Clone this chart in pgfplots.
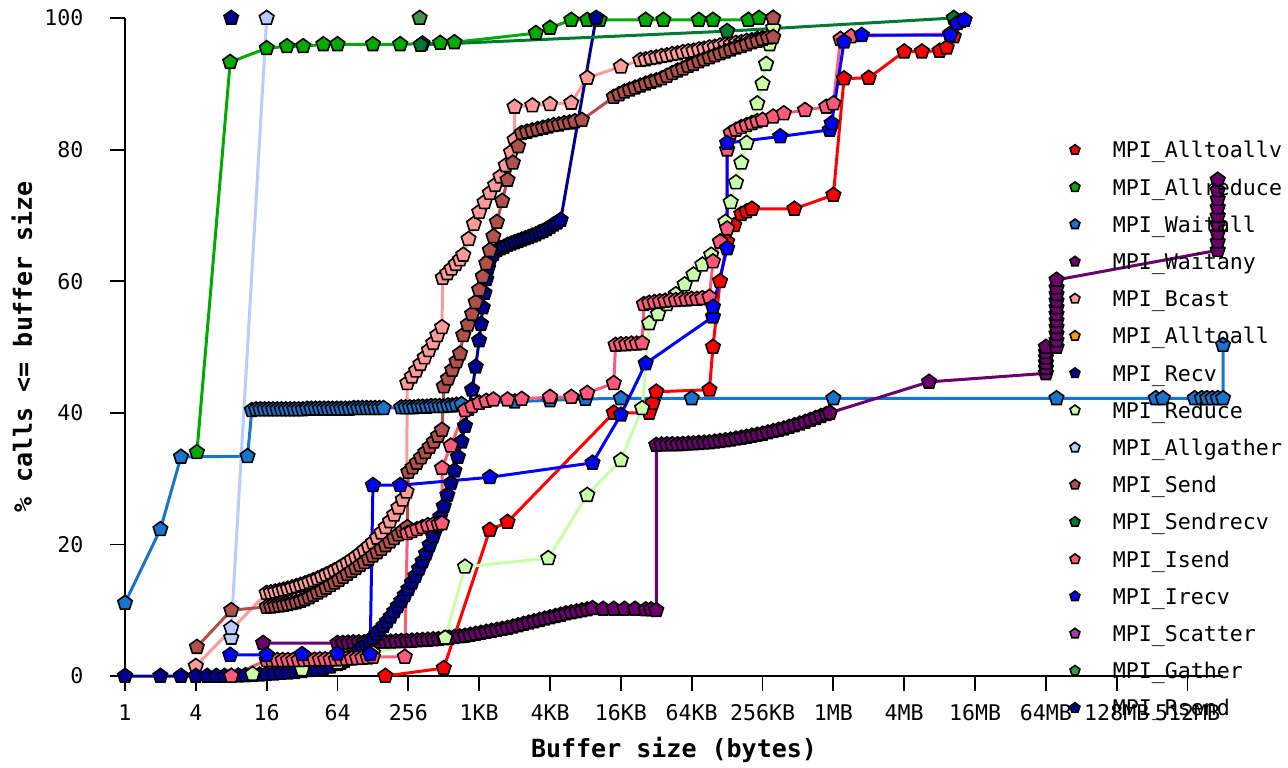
\documentclass[border=0pt]{standalone}
\usepackage{pgfplots}
\pgfplotsset{compat=1.18}
\usepackage{fontspec}
\setmainfont{DejaVu Sans Mono}
\definecolor{cAlltoallv}{HTML}{FF0000}
\definecolor{cAllreduce}{HTML}{00AA00}
\definecolor{cWaitall}{HTML}{1874CD}
\definecolor{cWaitany}{HTML}{6A006A}
\definecolor{cBcast}{HTML}{FF9A9A}
\definecolor{cAlltoall}{HTML}{FF9900}
\definecolor{cRecv}{HTML}{000090}
\definecolor{cReduce}{HTML}{C8FFA8}
\definecolor{cAllgather}{HTML}{B8CCFF}
\definecolor{cSend}{HTML}{B0504C}
\definecolor{cSendrecv}{HTML}{007A30}
\definecolor{cIsend}{HTML}{FF5A7A}
\definecolor{cIrecv}{HTML}{0000FF}
\definecolor{cScatter}{HTML}{A040A0}
\definecolor{cGather}{HTML}{40954A}
\definecolor{cRsend}{HTML}{000090}
\pgfplotsset{mk/.style={color=#1, line width=1.5pt, mark=pentagon*, mark size=3.8pt,
  mark options={draw=black, fill=#1, line width=0.8pt, solid}}}
\begin{document}
\fontsize{10.8pt}{13pt}\selectfont
\begin{tikzpicture}
\begin{axis}[
  scale only axis, width=549pt, height=329pt,
  xmin=0, xmax=31, ymin=0, ymax=100,
  clip=false,
  axis x line*=bottom, axis y line*=left,
  axis line style={-, line width=0.9pt, black},
  tick align=outside, major tick length=7.5pt,
  tick style={black, line width=0.9pt},
  xtick={0,2,...,30},
  xticklabels={1,4,16,64,256,1KB,4KB,16KB,64KB,256KB,1MB,4MB,16MB,64MB,128MB,512MB},
  ytick={0,20,...,100},
  /pgf/number format/assume math mode=true,
  tick label style={font=\fontsize{10.8pt}{12pt}\selectfont},
  xticklabel style={yshift=-3pt},
  yticklabel style={xshift=-9.5pt},
  xlabel={Buffer size (bytes)},
  ylabel={\% calls <= buffer size},
  label style={font=\fontsize{12.5pt}{14pt}\selectfont\bfseries},
  xlabel style={at={(axis description cs:0.5,-0.1125)}, anchor=center},
  ylabel style={at={(axis description cs:-0.0938,0.5)}, anchor=center},
  legend style={at={(rel axis cs:0.8597,0.8117)}, anchor=north west,
    draw=none, fill=none, inner sep=0pt, outer sep=0pt,
    row sep=8.6pt,
    nodes={inner sep=0pt, text height=8pt, text depth=2pt, font=\fontsize{10.8pt}{12pt}\selectfont}},
  legend cell align=left,
  legend image code/.code={\path[draw=none,fill=none] (-3pt,-4pt) rectangle (19pt,4pt);
    \draw[#1, only marks, mark size=2.6pt] plot coordinates {(0pt,1pt)};},
]
% MPI_Alltoallv
\addplot[mk=cAlltoallv] coordinates {(7.35,0) (9.0,1.2) (10.3,22.2) (10.8,23.4) (13.8,40) (14.8,40) (14.9,41.5) (15.0,43.2) (16.5,43.5) (16.6,50) (16.8,60) (17.0,66) (17.2,68.5) (17.4,70.2) (17.55,70.6) (17.7,71) (18.9,71) (20.0,73.1) (20.3,90.8) (21.0,90.9) (22.0,94.9) (22.5,94.9) (23.0,95) (23.2,95.5) (23.4,97.2) (23.7,99.7)};
\addlegendentry{MPI\_Alltoallv}
% MPI_Allreduce
\addplot[mk=cAllreduce] coordinates {(2.03,34) (2.97,93.3) (4.0,95.4) (4.57,95.7) (5.03,95.7) (5.6,96) (6.0,96) (7.0,96) (7.77,96) (8.4,96.1) (8.9,96.2) (9.3,96.3) (11.6,97.7) (12.0,98.5) (12.6,99.7) (13.05,99.7) (13.4,99.7) (14.7,99.7) (15.2,99.7) (16.2,99.7) (16.6,99.7) (17.6,99.7) (17.9,100)};
\addlegendentry{MPI\_Allreduce}
% MPI_Waitall
\addplot[mk=cWaitall] coordinates {(0,11.1) (1,22.3) (1.58,33.3) (3.46,33.4) (3.58,40.4) (3.7,40.5) (3.82,40.5) (3.94,40.5) (4.06,40.5) (4.18,40.5) (4.3,40.5) (4.42,40.5) (4.54,40.5) (4.66,40.5) (4.78,40.5) (4.9,40.5) (5.02,40.5) (5.14,40.6) (5.26,40.6) (5.38,40.6) (5.5,40.6) (5.62,40.6) (5.74,40.6) (5.86,40.6) (5.98,40.6) (6.1,40.6) (6.22,40.6) (6.34,40.6) (6.46,40.7) (6.58,40.7) (6.7,40.7) (6.82,40.7) (6.94,40.7) (7.06,40.7) (7.18,40.7) (7.3,40.7) (7.8,40.8) (7.92,40.8) (8.04,40.8) (8.16,40.8) (8.28,40.9) (8.4,40.9) (8.52,40.9) (8.64,41) (8.76,41) (8.88,41) (9.0,41) (9.12,41.1) (9.24,41.1) (9.36,41.2) (9.5,41.3) (10,41.5) (11,41.7) (12,41.9) (13,42.1) (14,42.2) (16,42.2) (20,42.2) (26.3,42.2) (29.1,42.2) (29.3,42.2) (30.2,42.2) (30.4,42.2) (30.55,42.2) (30.7,42.2) (30.85,42.2) (31.0,42.2) (31.0,50.3)};
\addlegendentry{MPI\_Waitall}
% MPI_Waitany
\addplot[mk=cWaitany] coordinates {(3.9,5.0) (6.0,5.0) (6.15,5.0) (6.3,5.05) (6.45,5.1) (6.6,5.1) (6.75,5.1) (6.9,5.1) (7.05,5.15) (7.2,5.2) (7.35,5.2) (7.5,5.2) (7.65,5.25) (7.8,5.3) (7.95,5.3) (8.1,5.35) (8.25,5.4) (8.4,5.45) (8.55,5.5) (8.7,5.55) (8.85,5.6) (9.0,5.7) (9.15,5.8) (9.3,5.9) (9.45,6.0) (9.6,6.1) (9.75,6.25) (9.9,6.4) (10.05,6.55) (10.2,6.7) (10.35,6.85) (10.5,7.0) (10.65,7.15) (10.8,7.3) (10.95,7.5) (11.1,7.7) (11.25,7.9) (11.4,8.1) (11.55,8.3) (11.7,8.5) (11.85,8.7) (12.0,8.9) (12.15,9.1) (12.3,9.3) (12.45,9.5) (12.6,9.65) (12.75,9.8) (12.9,9.95) (13.05,10.1) (13.2,10.3) (13.5,10.2) (13.8,10.2) (14.1,10.2) (14.4,10.2) (14.7,10.1) (14.85,10.1) (15.0,10.0) (15.0,35.1) (15.15,35.15) (15.3,35.2) (15.45,35.2) (15.6,35.2) (15.75,35.25) (15.9,35.3) (16.05,35.35) (16.2,35.4) (16.35,35.45) (16.5,35.5) (16.65,35.6) (16.8,35.7) (16.95,35.8) (17.1,35.9) (17.25,36.05) (17.4,36.2) (17.55,36.35) (17.7,36.5) (17.85,36.65) (18.0,36.8) (18.15,37.0) (18.3,37.2) (18.45,37.4) (18.6,37.6) (18.75,37.85) (18.9,38.1) (19.05,38.35) (19.2,38.6) (19.35,38.9) (19.5,39.2) (19.65,39.5) (19.8,39.8) (19.9,40.0) (22.7,44.7) (26.0,46.0) (26.0,46.8) (26.0,47.6) (26.0,48.4) (26.0,49.2) (26.0,50.0) (26.3,50) (26.3,51) (26.3,52) (26.3,53) (26.3,54) (26.3,55) (26.3,56) (26.3,57) (26.3,58) (26.3,59) (26.3,60.2) (30.85,64.7) (30.85,66) (30.85,67.3) (30.85,68.6) (30.85,69.9) (30.85,71.2) (30.85,72.5) (30.85,73.8) (30.85,75.4)};
\addlegendentry{MPI\_Waitany}
% MPI_Bcast
\addplot[mk=cBcast] coordinates {(2,1.5) (4.0,12.6) (4.12,12.7) (4.24,12.8) (4.36,12.95) (4.48,13.1) (4.6,13.25) (4.72,13.45) (4.84,13.65) (4.96,13.85) (5.08,14.05) (5.2,14.3) (5.32,14.55) (5.44,14.8) (5.56,15.1) (5.68,15.4) (5.8,15.7) (5.92,16.05) (6.04,16.4) (6.16,16.8) (6.28,17.2) (6.4,17.65) (6.52,18.1) (6.64,18.6) (6.76,19.15) (6.88,19.7) (7.0,20.3) (7.12,21.0) (7.24,21.8) (7.36,22.6) (7.48,23.5) (7.6,24.5) (7.72,25.6) (7.84,26.8) (7.95,28) (7.97,44.5) (8.1,45.5) (8.22,46.4) (8.34,47.4) (8.46,48.4) (8.58,49.5) (8.7,50.6) (8.82,51.8) (8.95,53) (8.97,60.5) (9.1,61.2) (9.22,61.9) (9.34,62.6) (9.46,63.3) (9.55,64) (9.7,66.4) (9.85,68.7) (10.0,70.5) (10.15,72) (10.3,73.4) (10.45,74.6) (10.6,75.9) (10.75,77.6) (10.9,79.6) (11.0,81.5) (11.0,86.5) (11.5,86.7) (12.0,86.9) (12.6,87.1) (13.05,90.9) (14.0,92.6) (14.55,93.6) (14.7,93.7) (14.85,93.9) (15.0,94.0) (15.15,94.2) (15.3,94.3) (15.45,94.5) (15.6,94.6) (15.75,94.8) (15.9,94.9) (16.05,95.0) (16.2,95.2) (16.35,95.3) (16.5,95.5) (16.65,95.6) (16.8,95.8) (16.95,95.9) (17.1,96.0) (17.25,96.2) (17.4,96.3) (17.55,96.5) (17.7,96.6) (17.85,96.8) (18.0,96.9) (18.15,97.0) (18.3,100)};
\addlegendentry{MPI\_Bcast}
% MPI_Alltoall (no visible data)
\addlegendimage{mk=cAlltoall}
\addlegendentry{MPI\_Alltoall}
% MPI_Recv
\addplot[mk=cRecv] coordinates {(0,0) (1,0) (1.58,0) (2,0) (2.32,0) (2.58,0) (2.81,0) (3.0,0) (3.2,0.05) (3.4,0.1) (3.6,0.15) (3.8,0.2) (4.0,0.3) (4.2,0.35) (4.4,0.45) (4.6,0.5) (4.8,0.6) (5.0,0.75) (5.2,0.9) (5.4,1.0) (5.6,1.15) (5.8,1.4) (6.0,1.8) (6.1,2.0) (6.2,2.3) (6.3,2.7) (6.4,3.0) (6.5,3.4) (6.6,3.9) (6.7,4.4) (6.8,4.8) (6.9,5.3) (7.0,5.8) (7.1,6.4) (7.2,7.0) (7.3,7.6) (7.4,8.3) (7.5,9.0) (7.6,9.8) (7.7,10.6) (7.8,11.4) (7.9,12.3) (8.0,13.2) (8.1,14.2) (8.2,15.2) (8.3,16.3) (8.4,17.4) (8.5,18.6) (8.6,19.9) (8.7,21.2) (8.8,22.7) (8.9,24.2) (9.0,25.8) (9.1,27.5) (9.2,29.3) (9.3,31.2) (9.4,33.3) (9.5,35.6) (9.6,38) (9.7,40.6) (9.8,43.5) (9.9,47) (10.0,51) (10.05,53.5) (10.1,56) (10.15,58.2) (10.2,60.3) (10.25,62) (10.3,63.2) (10.4,64.1) (10.5,64.7) (10.6,65.0) (10.7,65.2) (10.8,65.5) (10.9,65.7) (11.0,65.9) (11.1,66.1) (11.2,66.3) (11.3,66.5) (11.4,66.7) (11.5,66.9) (11.6,67.1) (11.7,67.4) (11.8,67.6) (11.9,67.9) (12.0,68.2) (12.1,68.6) (12.2,68.9) (12.3,69.3) (13.3,100)};
\addlegendentry{MPI\_Recv}
% MPI_Reduce
\addplot[mk=cReduce] coordinates {(3.6,0.3) (5,1) (6,2) (7,3.5) (9.04,5.8) (9.6,16.6) (11.95,17.9) (13.05,27.5) (14.0,32.8) (14.6,40.7) (14.8,53.6) (15.05,55) (15.3,56.5) (15.55,58) (15.8,59.5) (16.05,61) (16.3,62.5) (16.55,64) (16.8,66) (16.95,69) (17.1,72) (17.25,75) (17.4,78) (17.55,81) (17.7,84) (17.85,87) (18.0,90) (18.1,93) (18.2,96) (18.3,98.5)};
\addlegendentry{MPI\_Reduce}
% MPI_Allgather
\addplot[mk=cAllgather] coordinates {(3,5.8) (3,7.3) (4,100)};
\addlegendentry{MPI\_Allgather}
% MPI_Send
\addplot[mk=cSend] coordinates {(2.03,4.4) (3.0,10.0) (4.0,10.5) (4.12,10.55) (4.24,10.6) (4.36,10.7) (4.48,10.8) (4.6,10.9) (4.72,11.05) (4.84,11.2) (4.96,11.4) (5.08,11.65) (5.2,11.95) (5.32,12.3) (5.44,12.65) (5.56,13.0) (5.68,13.4) (5.8,13.8) (5.92,14.2) (6.04,14.6) (6.16,15.05) (6.28,15.5) (6.4,15.95) (6.52,16.4) (6.64,16.85) (6.76,17.3) (6.88,17.8) (7.0,18.3) (7.12,18.8) (7.24,19.3) (7.36,19.85) (7.48,20.4) (7.6,20.95) (7.72,21.5) (7.84,22.05) (7.97,22.6) (8.0,31) (8.12,31.7) (8.24,32.4) (8.36,33.2) (8.48,34) (8.6,34.8) (8.72,35.6) (8.84,36.5) (8.95,37.4) (9.0,44) (9.12,45.2) (9.24,46.5) (9.36,47.8) (9.46,49) (9.55,51.8) (9.68,53.4) (9.8,55) (9.9,56.8) (10.0,58.7) (10.1,60.7) (10.2,62.7) (10.3,64.7) (10.4,66.8) (10.5,69) (10.65,72.2) (10.8,75.4) (10.95,78) (11.1,80.5) (11.2,82.5) (11.35,82.7) (11.5,82.9) (11.65,83.1) (11.8,83.3) (11.95,83.5) (12.1,83.7) (12.25,83.8) (12.4,84.0) (12.55,84.1) (12.7,84.3) (12.9,84.5) (13.8,88) (13.95,88.4) (14.1,88.8) (14.25,89.1) (14.4,89.4) (14.55,89.7) (14.7,90) (14.85,90.3) (15.0,90.5) (15.15,90.8) (15.3,91.2) (15.45,91.6) (15.6,92.0) (15.75,92.3) (15.9,92.7) (16.05,93.0) (16.2,93.4) (16.35,93.7) (16.5,94.0) (16.65,94.3) (16.8,94.6) (16.95,94.9) (17.1,95.2) (17.25,95.5) (17.4,95.7) (17.55,96.0) (17.7,96.3) (17.85,96.5) (18.0,96.8) (18.15,97.0) (18.3,97.1) (18.3,100)};
\addlegendentry{MPI\_Send}
% MPI_Sendrecv
\addplot[mk=cSendrecv] coordinates {(8.35,95.9) (17.0,98.0) (23.4,100)};
\addlegendentry{MPI\_Sendrecv}
% MPI_Isend
\addplot[mk=cIsend] coordinates {(3.0,0) (4,2.4) (4.15,2.4) (4.3,2.4) (4.45,2.4) (4.6,2.4) (4.75,2.4) (4.9,2.4) (5.05,2.4) (5.2,2.45) (5.35,2.45) (5.5,2.5) (5.65,2.5) (5.8,2.5) (5.95,2.5) (6.1,2.55) (6.25,2.6) (6.4,2.65) (6.55,2.7) (6.7,2.75) (6.85,2.8) (7.0,2.9) (7.9,2.9) (7.97,21.7) (8.1,22.0) (8.25,22.3) (8.4,22.6) (8.55,22.9) (8.7,23.0) (8.85,23.1) (8.95,23.2) (8.95,31.6) (9.2,35) (9.6,40.4) (9.8,41.0) (10.0,41.5) (10.2,41.8) (10.4,42.0) (10.8,42.0) (11.2,42.1) (12.0,42.4) (12.6,42.4) (13.05,43) (13.8,44.5) (13.85,50.3) (14.0,50.4) (14.15,50.4) (14.3,50.5) (14.45,50.5) (14.6,50.6) (14.65,56.5) (14.8,56.7) (14.95,56.8) (15.1,56.9) (15.25,57.0) (15.4,57.1) (15.55,57.1) (15.7,57.2) (15.85,57.2) (16.0,57.3) (16.15,57.3) (16.3,57.4) (16.5,57.6) (16.6,63) (16.8,66) (17.0,68) (17.0,80) (17.1,82.5) (17.25,83.0) (17.4,83.4) (17.55,83.7) (17.7,84.0) (17.85,84.3) (18.0,84.5) (18.3,85.0) (18.6,85.5) (19.2,86) (19.8,86.5) (20.0,87) (20.2,96.8) (20.5,97.2) (23.3,97.6) (23.6,99.5)};
\addlegendentry{MPI\_Isend}
% MPI_Irecv
\addplot[mk=cIrecv] coordinates {(2.97,3.2) (4,3.2) (5,3.3) (6,3.4) (6.92,3.3) (7.0,29.0) (7.77,29.0) (10.3,30.2) (13.2,32.4) (14.0,39.7) (14.7,47.5) (16.6,54.6) (16.6,56.1) (17.0,65.0) (17.0,81.0) (18.5,82.0) (19.9,83) (19.95,84) (20.3,96.4) (20.8,97.4) (23.3,97.4) (23.5,99.2) (23.7,99.7)};
\addlegendentry{MPI\_Irecv}
% MPI_Scatter (no visible data)
\addlegendimage{mk=cScatter}
\addlegendentry{MPI\_Scatter}
% MPI_Gather
\addplot[mk=cGather] coordinates {(8.32,100)};
\addlegendentry{MPI\_Gather}
% MPI_Rsend
\addplot[mk=cRsend] coordinates {(3.0,100)};
\addlegendentry{MPI\_Rsend}
\end{axis}
\pgfresetboundingbox
\path[use as bounding box] ([xshift=-62.5pt,yshift=-45.5pt]current axis.south west) rectangle ([xshift=32.5pt,yshift=9pt]current axis.north east);
\end{tikzpicture}
\end{document}
